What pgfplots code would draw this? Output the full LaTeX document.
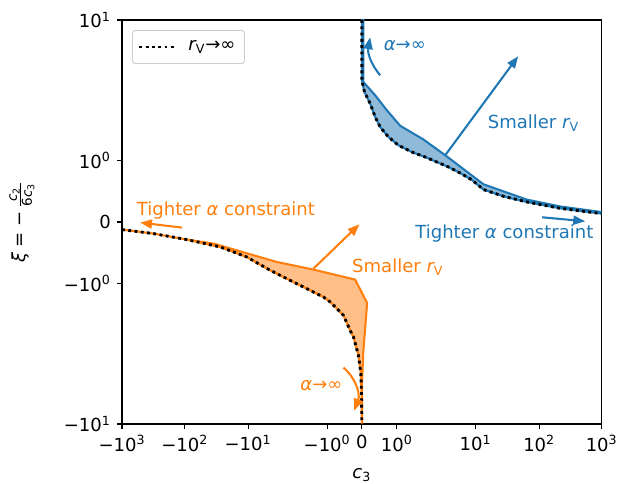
\documentclass[border=0pt]{standalone}
\usepackage{fontspec}
\setmainfont{DejaVu Sans}
\usepackage{pgfplots}
\pgfplotsset{compat=1.18}
\usetikzlibrary{arrows.meta}
\definecolor{mplblue}{HTML}{1F77B4}
\definecolor{mplorange}{HTML}{FF7F0E}
\tikzset{annarrow/.style={line width=1.15pt,-{Triangle[length=6.6pt,width=5pt]}}}
\begin{document}
\begin{tikzpicture}
\begin{axis}[
  scale only axis, width=266.2pt, height=224.2pt,
  xmin=-3.868, xmax=3.868, ymin=-3.258, ymax=3.258,
  axis line style={line width=0.6pt},
  tick align=outside, tick pos=left,
  major tick length=2.7pt,
  every tick/.style={line width=0.6pt, black},
  xtick={-3.868,-2.855,-1.835,-0.56,0,0.565,1.835,2.86,3.868},
  xticklabels={−10\textsuperscript{3},−10\textsuperscript{2},−10\textsuperscript{1},−10\textsuperscript{0},0,10\textsuperscript{0},10\textsuperscript{1},10\textsuperscript{2},10\textsuperscript{3}},
  ytick={-3.258,-0.995,0,0.995,3.258},
  yticklabels={−10\textsuperscript{1},−10\textsuperscript{0},0,10\textsuperscript{0},10\textsuperscript{1}},
  xlabel={{\itshape c}\textsubscript{3}},
  xlabel style={at={([yshift=-30.4pt]rel axis cs:0.5,0)}, anchor=base},
  ylabel={{\itshape ξ} = −\,$\frac{\mbox{\fontsize{7.5}{8}\selectfont\itshape c\upshape\textsubscript{2}}}{\mbox{\fontsize{7.5}{8}\selectfont 6\itshape c\upshape\textsubscript{3}}}$},
  ylabel style={at={([xshift=-55.5pt]rel axis cs:0,0.5)}, anchor=center},
  legend style={at={(0.021,0.975)}, anchor=north west, draw=black!20, rounded corners=1.5pt,
    fill=white, inner xsep=3pt, inner ysep=3.6pt, line width=0.5pt,
    /tikz/every odd column/.append style={column sep=5pt}},
  legend cell align=left,
  legend image code/.code={\draw[#1] (0pt,0pt) -- (19.4pt,0pt);},
]
% blue region (c3>0)
\addplot[forget plot, draw=mplblue, line width=1.15pt, fill=mplblue, fill opacity=0.5, draw opacity=1] coordinates {
  (0.022,3.258) (0.022,2.26) (0.215,2.044) (0.403,1.802) (0.618,1.552) (0.994,1.33)
  (1.36,1.065) (1.961,0.608) (2.661,0.361) (3.2,0.25) (3.868,0.16)
  (3.868,0.135) (3.2,0.22) (2.661,0.323) (2.3,0.41) (1.961,0.523) (1.774,0.68) (1.585,0.79)
  (1.397,0.887) (1.021,1.048) (0.806,1.129) (0.59,1.237) (0.429,1.371) (0.295,1.532)
  (0.215,1.694) (0.134,1.91) (0.043,2.097) (0.0,2.285) (0.0,3.258)
} -- cycle;
% orange region (c3<0)
\addplot[forget plot, draw=mplorange, line width=1.15pt, fill=mplorange, fill opacity=0.5, draw opacity=1] coordinates {
  (-3.868,-0.123) (-3.361,-0.187) (-2.823,-0.284) (-2.394,-0.348) (-1.371,-0.645)
  (-0.781,-0.768) (-0.108,-0.929) (0.085,-1.306) (0.021,-2.124) (0.005,-2.56) (0.005,-3.258)
  (0.0,-3.258) (-0.005,-2.8) (-0.016,-2.445) (-0.055,-2.15) (-0.135,-1.855) (-0.189,-1.747)
  (-0.297,-1.505) (-0.403,-1.397) (-0.511,-1.29) (-0.619,-1.21) (-1.103,-0.968)
  (-1.479,-0.779) (-1.855,-0.565) (-2.285,-0.403) (-2.823,-0.284) (-3.361,-0.187) (-3.868,-0.123)
} -- cycle;
% r_V -> infinity limit
\addplot[black, line width=1.6pt, dash pattern=on 1.6pt off 1.9pt] coordinates {
  (0.0,3.258) (0.0,2.285) (0.043,2.097) (0.134,1.91) (0.215,1.694) (0.295,1.532) (0.429,1.371)
  (0.59,1.237) (0.806,1.129) (1.021,1.048) (1.397,0.887) (1.585,0.79) (1.774,0.68)
  (1.961,0.523) (2.3,0.41) (2.661,0.323) (3.2,0.22) (3.868,0.135)
};
\addlegendentry{{\itshape r}\textsubscript{V}→∞}
\addplot[forget plot, black, line width=1.6pt, dash pattern=on 1.6pt off 1.9pt] coordinates {
  (-3.868,-0.123) (-3.361,-0.187) (-2.823,-0.284) (-2.285,-0.403) (-1.855,-0.565) (-1.479,-0.779)
  (-1.103,-0.968) (-0.619,-1.21) (-0.511,-1.29) (-0.403,-1.397) (-0.297,-1.505) (-0.189,-1.747)
  (-0.135,-1.855) (-0.055,-2.15) (-0.016,-2.445) (-0.005,-2.8) (0.0,-3.258)
};
% annotations
\draw[annarrow, mplorange] (axis cs:-2.903,-0.090) -- (axis cs:-3.576,-0.010);
\draw[annarrow, mplorange] (axis cs:-0.781,-0.752) -- (axis cs:-0.039,-0.037);
\draw[annarrow, mplorange] (axis cs:-0.297,-2.348) to[bend left=35] (axis cs:-0.124,-3.042);
\draw[annarrow, mplblue] (axis cs:0.295,2.366) to[bend left=25] (axis cs:0.134,2.979);
\draw[annarrow, mplblue] (axis cs:1.344,1.076) -- (axis cs:2.521,2.673);
\draw[annarrow, mplblue] (axis cs:2.908,0.076) -- (axis cs:3.602,0.011);
\node[mplorange, anchor=base, inner sep=0pt] at (axis cs:-2.192,0.108) {Tighter {\itshape α} constraint};
\node[mplorange, anchor=base west, inner sep=0pt] at (axis cs:-0.161,-0.811) {Smaller {\itshape r}\textsubscript{V}};
\node[mplorange, anchor=base west, inner sep=0pt] at (axis cs:-0.997,-2.716) {{\itshape α}→∞};
\node[mplblue, anchor=base west, inner sep=0pt] at (axis cs:0.348,2.769) {{\itshape α}→∞};
\node[mplblue, anchor=base west, inner sep=0pt] at (axis cs:2.026,1.506) {Smaller {\itshape r}\textsubscript{V}};
\node[mplblue, anchor=base, inner sep=0pt] at (axis cs:2.298,-0.268) {Tighter {\itshape α} constraint};
\coordinate (SW) at (rel axis cs:0,0);
\coordinate (NE) at (rel axis cs:1,1);
\end{axis}
\pgfresetboundingbox
\path[use as bounding box] ([xshift=-67.71pt,yshift=-32.75pt]SW) rectangle ([xshift=10.71pt,yshift=11.1pt]NE);
\end{tikzpicture}
\end{document}
